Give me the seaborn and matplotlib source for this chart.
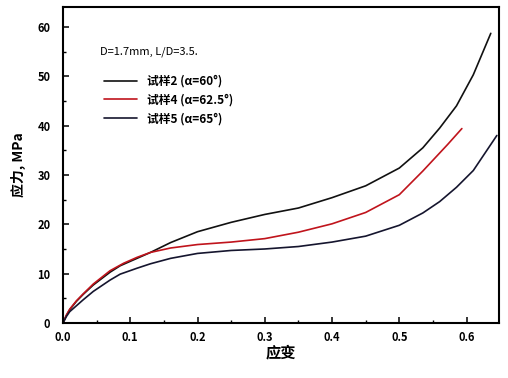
import numpy as np
import pandas as pd
import matplotlib
matplotlib.use("Agg")
import matplotlib.pyplot as plt
from matplotlib.ticker import MultipleLocator, FormatStrFormatter
import seaborn as sns

# values
strain_s2 = [0, 0.005, 0.01, 0.02, 0.03, 0.045, 0.07, 0.085, 0.11, 0.13, 0.16, 0.2,
             0.25, 0.3, 0.35, 0.4, 0.45, 0.5, 0.535, 0.56, 0.585, 0.61, 0.636]
stress_s2 = [0, 1.5, 2.7, 4.4, 5.8, 7.7, 10.3, 11.6, 13.1, 14.3, 16.3, 18.5,
             20.4, 22.0, 23.3, 25.4, 27.8, 31.4, 35.5, 39.5, 44.0, 50.3, 58.7]

strain_s4 = [0, 0.005, 0.01, 0.02, 0.03, 0.045, 0.07, 0.09, 0.11, 0.13, 0.16, 0.2,
             0.25, 0.3, 0.35, 0.4, 0.45, 0.5, 0.535, 0.572, 0.593]
stress_s4 = [0, 1.6, 2.8, 4.5, 5.9, 7.9, 10.6, 12.1, 13.3, 14.3, 15.2, 15.9,
             16.4, 17.1, 18.4, 20.1, 22.4, 26.0, 30.8, 36.2, 39.4]

strain_s5 = [0, 0.005, 0.01, 0.02, 0.03, 0.045, 0.07, 0.085, 0.11, 0.13, 0.16, 0.2,
             0.25, 0.3, 0.35, 0.4, 0.45, 0.5, 0.535, 0.56, 0.585, 0.61, 0.645]
stress_s5 = [0, 1.3, 2.3, 3.5, 4.7, 6.4, 8.7, 9.9, 11.1, 12.0, 13.1, 14.1,
             14.7, 15.0, 15.5, 16.4, 17.6, 19.8, 22.3, 24.6, 27.5, 30.9, 38.0]

labels = ["试样2 (α=60°)", "试样4 (α=62.5°)", "试样5 (α=65°)"]
colors = ["#111111", "#c0141c", "#15152e"]

frames = []
for lab, x, y in zip(labels, [strain_s2, strain_s4, strain_s5],
                     [stress_s2, stress_s4, stress_s5]):
    frames.append(pd.DataFrame({"strain": x, "stress": y, "specimen": lab}))
df = pd.concat(frames, ignore_index=True)

sns.set_theme(style="white")
plt.rcParams['font.family'] = ['Noto Sans CJK SC', 'DejaVu Sans']
plt.rcParams['text.color'] = 'black'

fig = plt.figure(figsize=(5.08, 3.78), dpi=100)
ax = fig.add_axes([0.124, 0.1455, 0.858, 0.8355])

sns.lineplot(data=df, x="strain", y="stress", hue="specimen",
             palette=dict(zip(labels, colors)), sort=False, estimator=None,
             linewidth=1.2, ax=ax)

ax.set_xlim(0, 0.648)
ax.set_ylim(0, 64)
ax.xaxis.set_major_locator(MultipleLocator(0.1))
ax.xaxis.set_minor_locator(MultipleLocator(0.05))
ax.yaxis.set_major_locator(MultipleLocator(10))
ax.yaxis.set_minor_locator(MultipleLocator(5))
ax.tick_params(which="both", direction="in", top=False, right=False,
               bottom=True, left=True, colors="black", labelsize=8)
ax.tick_params(which="major", length=4, width=1.1)
ax.tick_params(which="minor", length=2, width=1.0)
ax.tick_params(axis="x", pad=6)
ax.tick_params(axis="y", pad=9)
ax.xaxis.set_major_formatter(FormatStrFormatter("%.1f"))
for lbl in ax.get_xticklabels() + ax.get_yticklabels():
    lbl.set_fontweight("bold")

for s in ax.spines.values():
    s.set_color("black")
    s.set_linewidth(1.5)

ax.set_xlabel("应变", fontsize=11, fontweight="bold", labelpad=0, color="black")
ax.set_ylabel("应力, MPa", fontsize=10, fontweight="bold", labelpad=8, color="black")

ax.text(0.055, 55, "D=1.7mm, L/D=3.5.", fontsize=8, ha="left", va="center",
        color="black")

ax.legend(loc="upper left", bbox_to_anchor=(0.07, 0.82), frameon=False,
          handlelength=2.8, labelspacing=0.5, labelcolor="black",
          prop={"weight": "bold", "size": 8.5})

fig.savefig("out.png", dpi=100, facecolor="white")
